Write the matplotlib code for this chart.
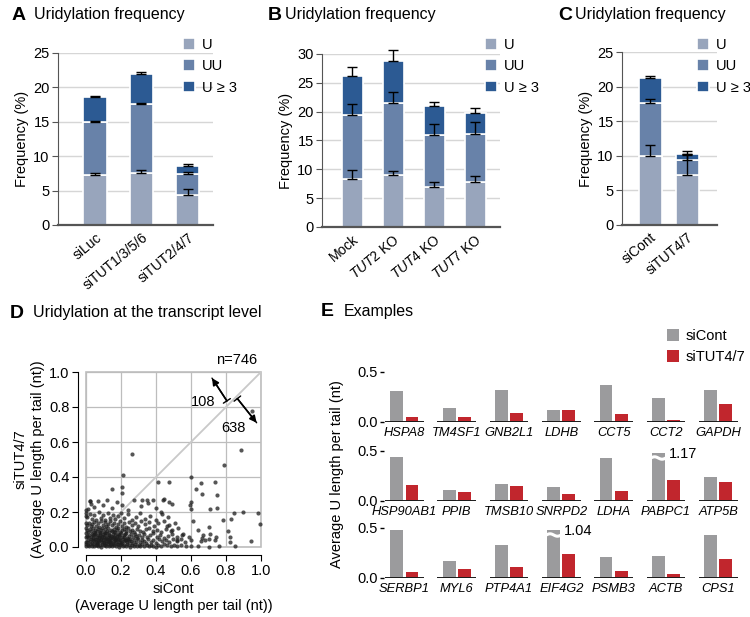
import numpy as np
import matplotlib
matplotlib.use("Agg")
import matplotlib.pyplot as plt
from matplotlib.ticker import FormatStrFormatter

plt.rcParams["font.family"] = ["Liberation Sans", "DejaVu Sans"]
plt.rcParams["mathtext.fontset"] = "custom"
plt.rcParams["mathtext.it"] = "Liberation Sans:italic"
plt.rcParams["mathtext.rm"] = "Liberation Sans"

W, H = 750, 617

# ---- panel A/B/C data (frequency %, per segment) ----
a_labels = ["siLuc", "siTUT1/3/5/6", "siTUT2/4/7"]
a_u = [7.3, 7.6, 4.4]
a_uu = [7.6, 10.0, 3.0]
a_u3 = [3.7, 4.3, 1.2]
a_err_u = [0.3, 0.4, 0.8]
a_err_uu = [0.2, 0.1, 0.3]
a_err_u3 = [0.1, 0.3, 0.3]

b_labels = ["Mock", r"$\mathit{TUT2}$ KO", r"$\mathit{TUT4}$ KO", r"$\mathit{TUT7}$ KO"]
b_u = [8.4, 9.0, 6.9, 7.8]
b_uu = [11.0, 12.5, 9.1, 8.4]
b_u3 = [6.7, 7.3, 5.0, 3.5]
b_err_u = [1.4, 0.7, 0.9, 1.0]
b_err_uu = [2.0, 1.9, 1.9, 2.0]
b_err_u3 = [1.7, 1.9, 0.7, 0.9]

c_labels = ["siCont", "siTUT4/7"]
c_u = [9.9, 7.2]
c_uu = [7.7, 2.2]
c_u3 = [3.6, 0.9]
c_err_u = [1.7, 2.9]
c_err_uu = [0.6, 0.8]
c_err_u3 = [0.4, 0.4]

# ---- panel D: (siCont, siTUT4/7) in thousandths ----
scatter_points = [
    (2, 5), (10, 12), (18, 3), (25, 15), (33, 8), (41, 18), (48, 4), (55, 11), (62, 16), (70, 6),
    (78, 13), (85, 2), (93, 17), (101, 9), (108, 14), (116, 5), (124, 19), (131, 7), (139, 12), (147, 3),
    (155, 16), (162, 10), (170, 6), (178, 15), (186, 2), (194, 11), (202, 18), (210, 7), (219, 13), (228, 4),
    (236, 16), (245, 9), (254, 2), (263, 14), (272, 8), (281, 17), (290, 5), (300, 12), (311, 3), (322, 15),
    (334, 8), (346, 11), (358, 4), (371, 14), (385, 7), (399, 2), (414, 12), (430, 6), (447, 16), (465, 9),
    (483, 3), (502, 13), (522, 5), (545, 10), (570, 3), (598, 8), (640, 4), (700, 2), (760, 6), (850, 3),
    (5, 28), (12, 41), (20, 33), (27, 47), (35, 25), (42, 38), (49, 45), (56, 30), (63, 22), (69, 42),
    (76, 35), (83, 48), (90, 27), (97, 39), (104, 31), (110, 46), (117, 24), (124, 37), (131, 44), (138, 29),
    (145, 40), (152, 22), (159, 34), (166, 48), (173, 27), (180, 43), (188, 31), (195, 38), (203, 25), (211, 46),
    (219, 33), (227, 41), (236, 28), (245, 36), (254, 44), (264, 23), (274, 39), (284, 31), (295, 47), (306, 26),
    (318, 42), (330, 35), (343, 21), (356, 45), (370, 30), (385, 38), (401, 24), (418, 43), (436, 32), (455, 40),
    (475, 27), (496, 48), (518, 36), (542, 44), (568, 29), (600, 38), (655, 33), (705, 45),
    (3, 62), (11, 55), (19, 71), (26, 58), (33, 77), (40, 52), (47, 66), (54, 74), (61, 57), (68, 69),
    (75, 53), (82, 78), (89, 61), (96, 72), (103, 55), (110, 67), (117, 79), (124, 58), (131, 70), (138, 52),
    (145, 64), (152, 76), (159, 59), (166, 68), (174, 54), (182, 73), (190, 62), (198, 79), (207, 56), (216, 67),
    (225, 75), (235, 51), (245, 64), (256, 72), (267, 58), (279, 77), (291, 53), (304, 69), (318, 60), (333, 75),
    (349, 55), (366, 66), (384, 78), (403, 58), (423, 71), (445, 52), (468, 65), (492, 77), (520, 60), (553, 73),
    (590, 55),
    (4, 95), (13, 84), (22, 102), (30, 91), (38, 107), (46, 86), (54, 99), (62, 92), (70, 105), (78, 83),
    (86, 97), (94, 109), (102, 88), (110, 101), (118, 93), (126, 106), (134, 85), (142, 98), (150, 90), (158, 104),
    (167, 87), (176, 100), (185, 108), (195, 84), (205, 96), (215, 103), (226, 89), (238, 107), (250, 92), (263, 99),
    (277, 85), (292, 104), (308, 94), (325, 88), (343, 101), (362, 109), (383, 90), (405, 98), (430, 86), (457, 103),
    (488, 93), (525, 107),
    (6, 125), (16, 140), (27, 118), (37, 133), (47, 145), (57, 121), (67, 137), (77, 115), (87, 148), (97, 128),
    (107, 141), (117, 119), (127, 134), (137, 146), (147, 124), (158, 139), (169, 116), (180, 131), (192, 147), (204, 122),
    (217, 136), (231, 113), (246, 144), (262, 127), (279, 139), (297, 118), (317, 149), (338, 130), (361, 142), (386, 121),
    (413, 135), (443, 146), (475, 126), (510, 140),
    (8, 172), (20, 190), (33, 160), (46, 184), (59, 155), (72, 198), (85, 168), (98, 181), (111, 157), (124, 193),
    (138, 166), (152, 185), (167, 158), (183, 177), (200, 196), (218, 163), (238, 186), (260, 154), (283, 174), (308, 195),
    (335, 161), (365, 180), (398, 152), (432, 190), (470, 171),
    (10, 215), (28, 248), (48, 228), (70, 262), (95, 238), (120, 271), (148, 222), (175, 255), (205, 240), (240, 212),
    (275, 268), (312, 232), (355, 250), (400, 225), (445, 272), (490, 245), (0, 210), (24, 265),
    (44, 35), (58, 48), (66, 28), (74, 60), (88, 40), (101, 22), (114, 52), (121, 44), (136, 36), (149, 58),
    (163, 42), (177, 62), (191, 47), (52, 82), (79, 70), (107, 79), (134, 66), (161, 87), (188, 70), (215, 57),
    (230, 82), (242, 47), (258, 34), (287, 62), (65, 14), (93, 58), (129, 27), (157, 50), (185, 20), (39, 68),
    (112, 33), (143, 17), (171, 38), (199, 27), (221, 42),
    (0, 30), (0, 55), (0, 80), (0, 110), (0, 140), (0, 175), (0, 195), (2, 15),
    (213, 410), (204, 345), (204, 310), (150, 330), (260, 530), (410, 373), (476, 373), (23, 265), (600, 400), (655, 367),
    (735, 373), (627, 330), (665, 303), (750, 297), (598, 257), (597, 240), (600, 220), (710, 220), (747, 225), (846, 196),
    (895, 198), (983, 196), (830, 160), (785, 154), (613, 148), (700, 113), (640, 97), (670, 69), (710, 72), (743, 59),
    (813, 93), (823, 59), (820, 30), (943, 36), (737, 40), (680, 40), (660, 50), (790, 470), (884, 554), (947, 780),
    (995, 130), (550, 70), (520, 40), (490, 95), (460, 120), (430, 200), (380, 270), (318, 270), (347, 270), (440, 270),
    (476, 260),
]
n_label = "n=746"
count_up = "108"
count_down = "638"

# ---- panel E data ----
e_genes = [
    ["HSPA8", "TM4SF1", "GNB2L1", "LDHB", "CCT5", "CCT2", "GAPDH"],
    ["HSP90AB1", "PPIB", "TMSB10", "SNRPD2", "LDHA", "PABPC1", "ATP5B"],
    ["SERBP1", "MYL6", "PTP4A1", "EIF4G2", "PSMB3", "ACTB", "CPS1"],
]
e_sicont = [
    [0.31, 0.14, 0.32, 0.12, 0.37, 0.24, 0.32],
    [0.44, 0.11, 0.17, 0.14, 0.43, 1.17, 0.24],
    [0.49, 0.17, 0.33, 1.04, 0.21, 0.22, 0.43],
]
e_situt = [
    [0.045, 0.045, 0.085, 0.12, 0.08, 0.018, 0.18],
    [0.16, 0.088, 0.15, 0.07, 0.095, 0.21, 0.19],
    [0.058, 0.085, 0.11, 0.24, 0.068, 0.032, 0.19],
]

C_U = "#98a5bc"
C_UU = "#6882a9"
C_U3 = "#2c5a93"
GRAY = "#9b9b9d"
RED = "#c1262d"


def px_axes(fig, left, top, right, bottom):
    return fig.add_axes([left / W, 1 - bottom / H, (right - left) / W, (bottom - top) / H])


def stacked(ax, labels, u, uu, u3, eu, euu, eu3, xlim, ymax, width, legend_xy):
    x = np.arange(len(labels))
    u, uu, u3 = np.array(u), np.array(uu), np.array(u3)
    h1 = ax.bar(x, u, width, color=C_U, edgecolor="white", linewidth=1.2, zorder=2)
    h2 = ax.bar(x, uu, width, bottom=u, color=C_UU, edgecolor="white", linewidth=1.2, zorder=2)
    h3 = ax.bar(x, u3, width, bottom=u + uu, color=C_U3, edgecolor="white", linewidth=1.2, zorder=2)
    for tops, err in ((u, eu), (u + uu, euu), (u + uu + u3, eu3)):
        ax.errorbar(x, tops, yerr=[np.zeros(len(x)), err], fmt="none", ecolor="black",
                    elinewidth=1, capsize=3.5, capthick=1, clip_on=False, zorder=5)
    ax.set_xlim(*xlim)
    ax.set_ylim(0, ymax)
    ax.set_yticks(np.arange(0, ymax + 1, 5))
    ax.yaxis.grid(True, color="#d6d6d6", lw=1)
    ax.set_axisbelow(True)
    for s in ("top", "right"):
        ax.spines[s].set_visible(False)
    ax.spines["left"].set_color("#555555")
    ax.spines["left"].set_linewidth(0.8)
    ax.spines["left"].set_bounds(0, ymax)
    ax.spines["bottom"].set_color("#555555")
    ax.spines["bottom"].set_linewidth(1.6)
    ax.spines["bottom"].set_zorder(4)
    ax.tick_params(axis="y", length=4, width=0.8, color="#555555", labelsize=10.5, pad=2)
    ax.tick_params(axis="x", length=0, labelsize=10, pad=4)
    ax.set_xticks(x)
    ax.set_xticklabels(labels, rotation=40, ha="right", rotation_mode="anchor")
    ax.set_ylabel("Frequency (%)", fontsize=10.5, labelpad=3)
    fig.legend([h1, h2, h3], ["U", "UU", "U ≥ 3"], loc="upper left",
               bbox_to_anchor=(legend_xy[0] / W, 1 - legend_xy[1] / H), frameon=False,
               fontsize=10.5, handlelength=0.85, handleheight=0.85, handletextpad=0.45,
               labelspacing=0.5, borderpad=0, borderaxespad=0)


fig = plt.figure(figsize=(7.5, 6.17), dpi=100)

# titles
for letter, lx, tx, ty, txt in [
    ("A", 12, 34, 15, "Uridylation frequency"),
    ("B", 268, 285, 15, "Uridylation frequency"),
    ("C", 558, 575, 15, "Uridylation frequency"),
    ("D", 10, 33, 313, "Uridylation at the transcript level"),
    ("E", 321, 344, 312, "Examples"),
]:
    fig.text(lx / W, 1 - ty / H, letter, fontsize=14, fontweight="bold", va="center", ha="left")
    fig.text(tx / W, 1 - ty / H, txt, fontsize=11.5, va="center", ha="left")

axa = px_axes(fig, 58, 53, 213, 225)
stacked(axa, a_labels, a_u, a_uu, a_u3, a_err_u, a_err_uu, a_err_u3,
        (-0.8, 2.55), 25, 0.5, (183, 38))

axb = px_axes(fig, 322, 54, 500, 227)
stacked(axb, b_labels, b_u, b_uu, b_u3, b_err_u, b_err_uu, b_err_u3,
        (-0.74, 3.6), 30, 0.52, (485, 38))

axc = px_axes(fig, 622, 52, 717, 225)
stacked(axc, c_labels, c_u, c_uu, c_u3, c_err_u, c_err_uu, c_err_u3,
        (-0.76, 1.81), 25, 0.62, (697, 38))

# ---- D scatter ----
pts = np.array(scatter_points) / 1000.0
axd = px_axes(fig, 86, 372, 261, 547)
axd.plot([0, 1], [0, 1], color="#c9c9c9", lw=1.3, zorder=1)
axd.scatter(pts[:, 0], pts[:, 1], s=9, c="#1e1e1e", alpha=0.75, linewidths=0, zorder=3, clip_on=False)
axd.set_xlim(0, 1)
axd.set_ylim(0, 1)
axd.set_xticks(np.arange(0, 1.01, 0.2))
axd.set_yticks(np.arange(0, 1.01, 0.2))
axd.xaxis.set_major_formatter(FormatStrFormatter("%.1f"))
axd.yaxis.set_major_formatter(FormatStrFormatter("%.1f"))
axd.grid(True, color="#bdbdbd", lw=0.9)
axd.set_axisbelow(True)
axd.patch.set_edgecolor("#bdbdbd")
axd.patch.set_linewidth(1.2)
for s in ("top", "right"):
    axd.spines[s].set_visible(False)
for s in ("left", "bottom"):
    axd.spines[s].set_position(("outward", 6))
    axd.spines[s].set_bounds(0, 1)
    axd.spines[s].set_linewidth(0.8)
axd.tick_params(length=4, width=0.8, labelsize=10.5, pad=2)
axd.set_xlabel("siCont\n(Average U length per tail (nt))", fontsize=10.5, labelpad=3, linespacing=1.25)
axd.set_ylabel("siTUT4/7\n(Average U length per tail (nt))", fontsize=10.5, labelpad=3, linespacing=1.25)
axd.text(0.98, 1.03, n_label, ha="right", va="bottom", fontsize=10.5, transform=axd.transData)
axd.annotate("", xy=(0.72, 0.965), xytext=(0.805, 0.835),
             arrowprops=dict(arrowstyle="-|>", color="black", lw=1.2, mutation_scale=10, shrinkA=0, shrinkB=0))
axd.annotate("", xy=(0.72, 0.965), xytext=(0.805, 0.835),
             arrowprops=dict(arrowstyle="|-|, widthA=0.3, widthB=0", color="black", lw=1.0, shrinkA=0, shrinkB=0))
axd.annotate("", xy=(0.975, 0.71), xytext=(0.865, 0.848),
             arrowprops=dict(arrowstyle="-|>", color="black", lw=1.2, mutation_scale=10, shrinkA=0, shrinkB=0))
axd.annotate("", xy=(0.975, 0.71), xytext=(0.865, 0.848),
             arrowprops=dict(arrowstyle="|-|, widthA=0.3, widthB=0", color="black", lw=1.0, shrinkA=0, shrinkB=0))
axd.text(0.67, 0.83, count_up, ha="center", va="center", fontsize=10.5)
axd.text(0.84, 0.68, count_down, ha="center", va="center", fontsize=10.5)

# ---- E bars ----
row_bottoms = [421.5, 500.5, 577.5]
ppu = 100.0  # pixels per unit
ymax_e = 0.55
bw = 0.245
off = 0.145
cap = 0.48
for r, bottom in enumerate(row_bottoms):
    ax = px_axes(fig, 384, bottom - ymax_e * ppu, 738.6, bottom)
    x = np.arange(len(e_genes[r]))
    cont = np.array(e_sicont[r])
    tut = np.array(e_situt[r])
    hg = ax.bar(x - off, np.minimum(cont, cap), bw, color=GRAY, zorder=2)
    hr = ax.bar(x + off, tut, bw, color=RED, zorder=2)
    ax.hlines(np.zeros(len(x)), x - 0.37, x + 0.37, color="#1a1a1a", lw=1.4, zorder=3)
    for xi, v in zip(x, cont):
        if v > 0.5:
            wx = np.linspace(xi - off - bw / 2 - 0.02, xi - off + bw / 2 + 0.02, 30)
            wy = 0.425 + 0.012 * np.sin((wx - wx[0]) / (wx[-1] - wx[0]) * 2 * np.pi)
            ax.plot(wx, wy, color="white", lw=2.2, zorder=4)
            ax.text(xi - off + bw / 2 + 0.07, 0.465, f"{v:.2f}", fontsize=10.5, va="center", ha="left")
    ax.set_xlim(-0.39, 6.39)
    ax.set_ylim(0, ymax_e)
    for s in ax.spines.values():
        s.set_visible(False)
    ax.set_yticks([0, 0.5])
    ax.set_yticklabels(["0.0", "0.5"])
    ax.tick_params(axis="y", length=3, width=1, labelsize=10.5, pad=1.5)
    ax.set_xticks(x)
    ax.set_xticklabels(e_genes[r], fontstyle="italic", fontsize=9.3)
    ax.tick_params(axis="x", length=0, pad=4)
    if r == 0:
        fig.legend([hg, hr], ["siCont", "siTUT4/7"], loc="upper left",
                   bbox_to_anchor=(667 / W, 1 - 329 / H), frameon=False, fontsize=10.5,
                   handlelength=0.85, handleheight=0.85, handletextpad=0.45,
                   labelspacing=0.5, borderpad=0, borderaxespad=0)

fig.text(337 / W, 1 - 474 / H, "Average U length per tail (nt)", rotation=90,
         ha="center", va="center", fontsize=10.5)

fig.savefig("out.png", dpi=100)
